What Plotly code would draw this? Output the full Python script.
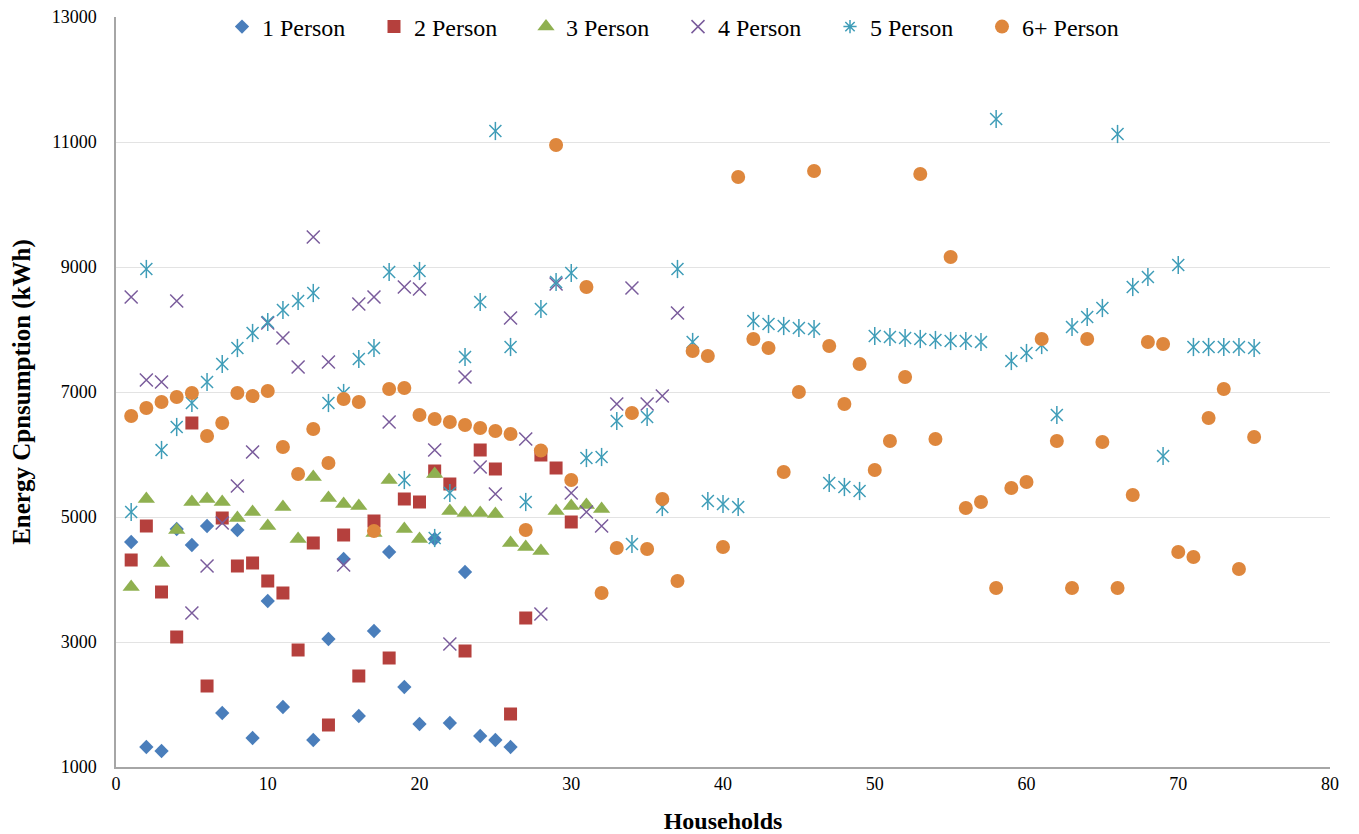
import plotly.graph_objects as go

# ---- data ----
p1_x = [1, 2, 3, 4, 5, 6, 7, 8, 9, 10, 11, 13, 14, 15, 16, 17, 18, 19, 20, 21, 22, 23, 24, 25, 26]
p1_y = [4600, 1320, 1256, 4808, 4552, 4856, 1864, 4792, 1464, 3656, 1960, 1432, 3048, 4328, 1816,
        3176, 4440, 2280, 1688, 4648, 1704, 4120, 1496, 1432, 1320]

p2_x = list(range(1, 31))
p2_y = [4312, 4856, 3800, 3080, 6504, 2296, 4984, 4216, 4264, 3976, 3784, 2872, 4584, 1672, 4712,
        2456, 4936, 2744, 5288, 5240, 5736, 5528, 2856, 6072, 5768, 1848, 3384, 5992, 5784, 4920]

p3_x = list(range(1, 33))
p3_y = [3880, 5288, 4264, 4792, 5240, 5288, 5240, 4984, 5080, 4856, 5160, 4648, 5640, 5304, 5208,
        5176, 4744, 5592, 4808, 4648, 5688, 5096, 5064, 5064, 5048, 4584, 4520, 4456, 5096, 5176,
        5192, 5128]

p4_x = list(range(1, 38))
p4_y = [8520, 7192, 7160, 8456, 3464, 4216, 4904, 5496, 6040, 8104, 7864, 7400, 9480, 7480, 4232,
        8408, 8520, 6520, 8680, 8648, 6072, 2968, 7240, 5800, 5368, 8184, 6248, 3448, 8728, 5384,
        5080, 4856, 6808, 8664, 6808, 6936, 8264]

p5_x = list(range(1, 76))
p5_y = [5080, 8968, 6072, 6440, 6824, 7160, 7448, 7704, 7944, 8120, 8312, 8456, 8584, 6824, 6984,
        7528, 7704, 8920, 5592, 8936, 4664, 5384, 7560, 8440, 11176, 7720, 5240, 8328, 8760, 8904,
        5944, 5960, 6536, 4568, 6600, 5160, 8968, 7800, 5256, 5208, 5160, 8136, 8088, 8056, 8024,
        8008, 5544, 5480, 5416, 7896, 7880, 7864, 7848, 7832, 7816, 7816, 7800, 11368, 7496, 7624,
        7752, 6632, 8040, 8200, 8344, 11128, 8680, 8840, 5976, 9032, 7720, 7720, 7720, 7720, 7704]

p6_x = list(range(1, 76))
p6_y = [6616, 6744, 6840, 6920, 6984, 6296, 6504, 6984, 6936, 7016, 6120, 5688, 6408, 5864, 6888,
        6840, 4776, 7048, 7064, 6632, 6568, 6520, 6472, 6424, 6376, 6328, 4792, 6064, 10952, 5592,
        8680, 3784, 4504, 6664, 4488, 5288, 3976, 7656, 7576, 4520, 10440, 7848, 7704, 5720, 7000,
        10536, 7736, 6808, 7448, 5752, 6216, 7240, 10488, 6248, 9160, 5144, 5240, 3864, 5464, 5560,
        7848, 6216, 3864, 7848, 6200, 3864, 5352, 7800, 7768, 4440, 4360, 6584, 7048, 4168, 6280]

names = ["1 Person", "2 Person", "3 Person", "4 Person", "5 Person", "6+ Person"]
x_ticks = [0, 10, 20, 30, 40, 50, 60, 70, 80]
y_ticks = [1000, 3000, 5000, 7000, 9000, 11000, 13000]

# ---- styles ----
FONT = "Liberation Serif"
C1, C2, C3, C4, C5, C6 = "#4A7EBB", "#B5403D", "#8FB050", "#7A5C9C", "#3F9DB8", "#DE873D"

fig = go.Figure()
fig.add_trace(go.Scatter(x=p1_x, y=p1_y, mode="markers", name=names[0],
                         marker=dict(symbol="diamond", size=11, color=C1)))
fig.add_trace(go.Scatter(x=p2_x, y=p2_y, mode="markers", name=names[1],
                         marker=dict(symbol="square", size=13, color=C2)))
fig.add_trace(go.Scatter(x=p3_x, y=p3_y, mode="markers", name=names[2],
                         marker=dict(symbol="triangle-up", size=15, color=C3)))
fig.add_trace(go.Scatter(x=p4_x, y=p4_y, mode="markers", name=names[3],
                         marker=dict(symbol="x-thin-open", size=13, color=C4,
                                     line=dict(width=1.5, color=C4))))
# 5 Person: star made of an X plus a vertical stroke; a legend-only entry shows the symbol
fig.add_trace(go.Scatter(x=[None], y=[None], mode="markers", name=names[4], legendgroup="p5",
                         marker=dict(symbol="asterisk-open", size=11, color=C5,
                                     line=dict(width=1.5, color=C5))))
fig.add_trace(go.Scatter(x=p5_x, y=p5_y, mode="markers", name=names[4], legendgroup="p5",
                         showlegend=False,
                         marker=dict(symbol="x-thin-open", size=12, color=C5,
                                     line=dict(width=1.5, color=C5))))
fig.add_trace(go.Scatter(x=p5_x, y=p5_y, mode="markers", name=names[4], legendgroup="p5",
                         showlegend=False,
                         marker=dict(symbol="line-ns-open", size=13, color=C5,
                                     line=dict(width=1.5, color=C5))))
fig.add_trace(go.Scatter(x=p6_x, y=p6_y, mode="markers", name=names[5],
                         marker=dict(symbol="circle", size=14, color=C6)))

# page body adds an 8px offset, so the figure is sized to fit the window from there
fig.update_layout(
    width=1351, height=826,
    margin=dict(l=108, r=29, t=9, b=67, autoexpand=False),
    paper_bgcolor="white", plot_bgcolor="white",
    font=dict(family=FONT, color="black"),
    showlegend=True,
    legend=dict(
        orientation="h", x=(222 - 116) / 1214, xanchor="left", y=1 - 10 / 750, yanchor="middle",
        bgcolor="white", font=dict(family=FONT, size=24, color="black"),
        entrywidth=107, entrywidthmode="pixels", itemwidth=30,
    ),
    xaxis=dict(
        range=[0, 80], tickvals=x_ticks, ticktext=[str(v) for v in x_ticks],
        showgrid=False, zeroline=False, showline=True, linecolor="#A6A6A6", linewidth=1.5,
        ticks="", ticklabeloverflow="allow", tickfont=dict(family=FONT, size=18, color="black"),
        title=dict(text="<b>Households</b>", font=dict(family=FONT, size=24, color="black"),
                   standoff=19),
    ),
    yaxis=dict(
        range=[1000, 13000], tickvals=y_ticks, ticktext=[str(v) for v in y_ticks],
        showgrid=True, gridcolor="#E3E3E3", gridwidth=1, zeroline=False,
        showline=True, linecolor="#A6A6A6", linewidth=1.5,
        ticks="", ticklabelstandoff=14, ticklabeloverflow="allow",
        tickfont=dict(family=FONT, size=18, color="black"),
        title=dict(text="<b>Energy Cpnsumption (kWh)</b>",
                   font=dict(family=FONT, size=25, color="black"), standoff=20),
    ),
)

fig.write_html("out.html")
